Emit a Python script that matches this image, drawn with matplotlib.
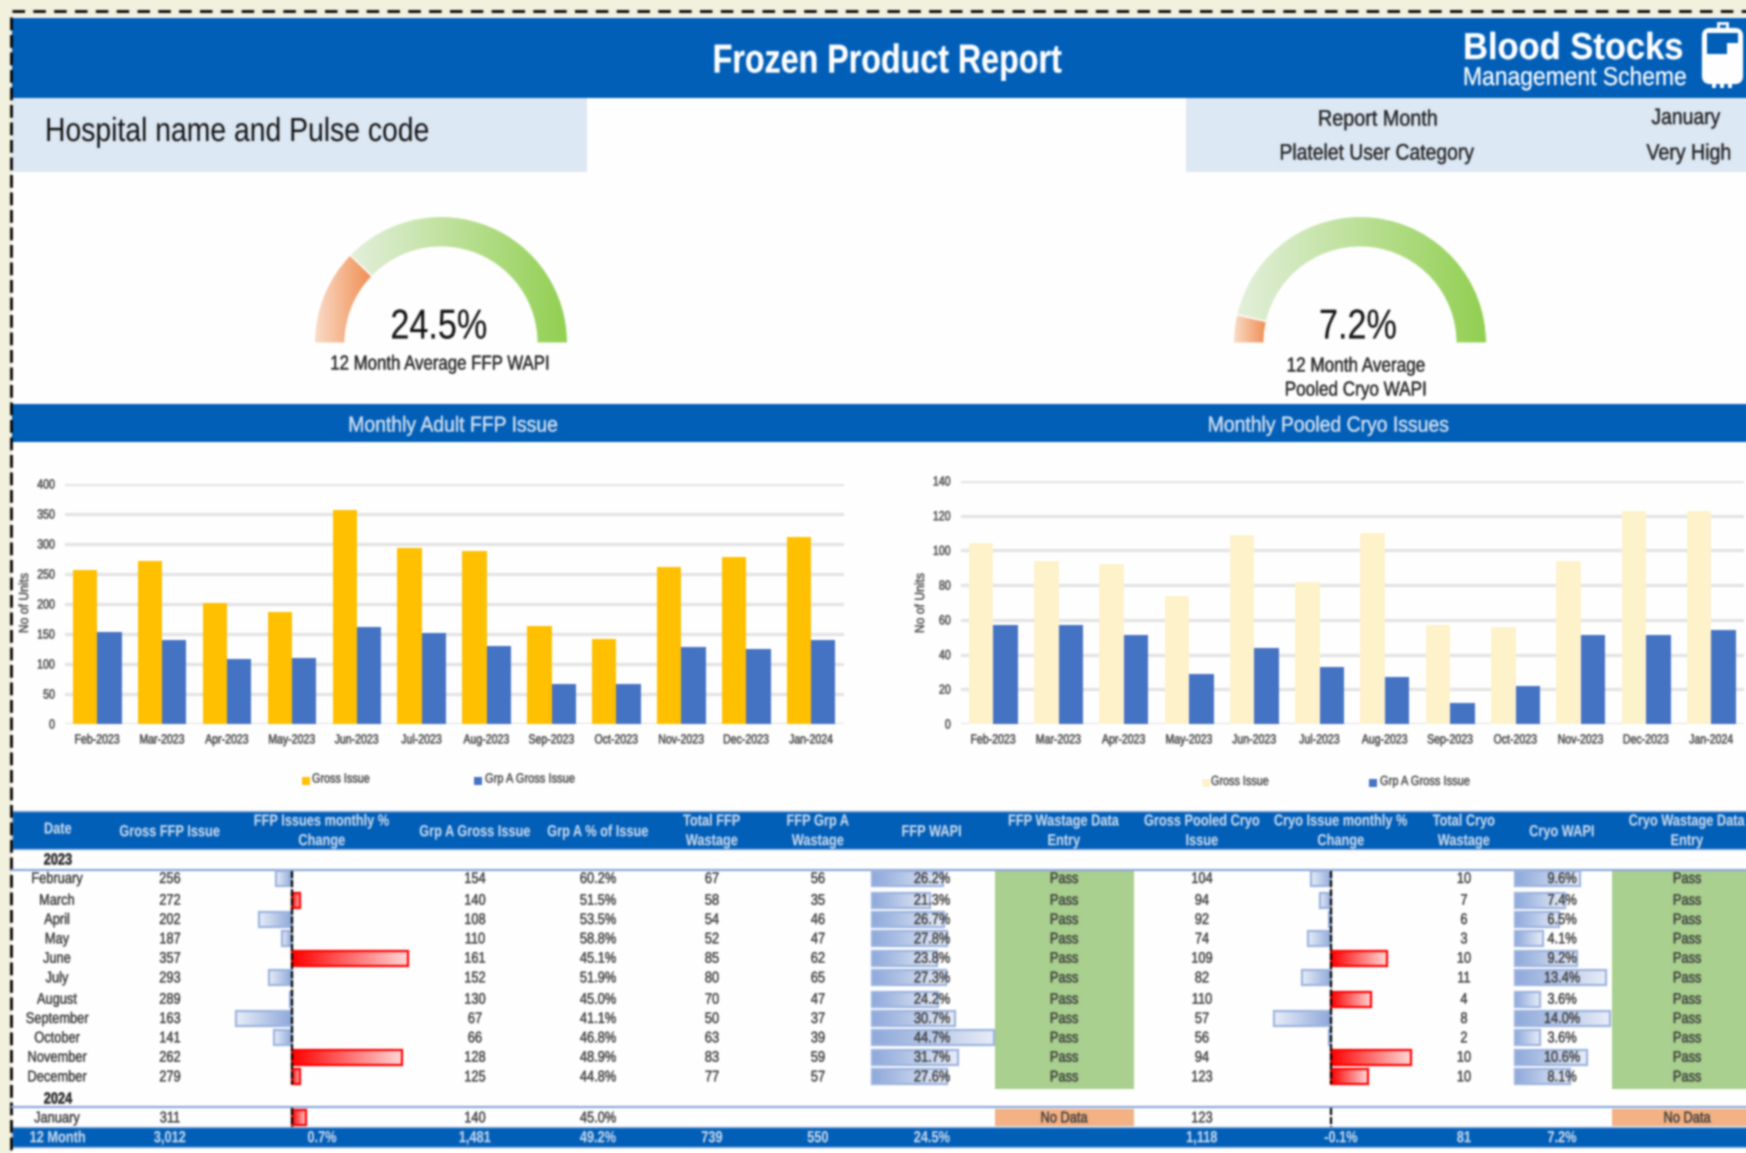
import numpy as np
import matplotlib
matplotlib.use("Agg")
import matplotlib.pyplot as plt
from matplotlib.colors import to_rgb
from matplotlib.patches import Rectangle, Wedge, FancyBboxPatch
from matplotlib.patheffects import AbstractPathEffect
from matplotlib.transforms import Affine2D

# ---------- data ----------
months_short = ["Feb-2023", "Mar-2023", "Apr-2023", "May-2023", "Jun-2023", "Jul-2023",
                "Aug-2023", "Sep-2023", "Oct-2023", "Nov-2023", "Dec-2023", "Jan-2024"]
months_long = ["February", "March", "April", "May", "June", "July", "August",
               "September", "October", "November", "December", "January"]
ffp_gross = [256, 272, 202, 187, 357, 293, 289, 163, 141, 262, 279, 311]
ffp_grp_a = [154, 140, 108, 110, 161, 152, 130, 67, 66, 128, 125, 140]
ffp_change = [-12, 6.3, -25.7, -7.4, 90.9, -17.9, -1.4, -43.6, -13.5, 85.8, 6.5, 11.5]
ffp_grp_pct = ["60.2%", "51.5%", "53.5%", "58.8%", "45.1%", "51.9%", "45.0%", "41.1%",
               "46.8%", "48.9%", "44.8%", "45.0%"]
ffp_total_waste = [67, 58, 54, 52, 85, 80, 70, 50, 63, 83, 77, None]
ffp_grp_waste = [56, 35, 46, 47, 62, 65, 47, 37, 39, 59, 57, None]
ffp_wapi = [26.2, 21.3, 26.7, 27.8, 23.8, 27.3, 24.2, 30.7, 44.7, 31.7, 27.6]
cryo_gross = [104, 94, 92, 74, 109, 82, 110, 57, 56, 94, 123, 123]
cryo_grp_a = [57, 57, 51, 29, 44, 33, 27, 12, 22, 51, 51, 54]
cryo_change = [-17, -9.6, -2.1, -19.6, 47.3, -24.8, 34.1, -48.2, -1.8, 67.9, 30.9, 0]
cryo_total_waste = [10, 7, 6, 3, 10, 11, 4, 8, 2, 10, 10, None]
cryo_wapi = [9.6, 7.4, 6.5, 4.1, 9.2, 13.4, 3.6, 14.0, 3.6, 10.6, 8.1]
entry_status = ["Pass"] * 11 + ["No Data"]
ffp_avg_wapi = 24.5
cryo_avg_wapi = 7.2
headers = ["Date", "Gross FFP Issue", "FFP Issues monthly %\nChange", "Grp A Gross Issue",
           "Grp A % of Issue", "Total FFP\nWastage", "FFP Grp A\nWastage", "FFP WAPI",
           "FFP Wastage Data\nEntry", "Gross Pooled Cryo\nIssue", "Cryo Issue monthly %\nChange",
           "Total Cryo\nWastage", "Cryo WAPI", "Cryo Wastage Data\nEntry"]
totals = ["12 Month", "3,012", "0.7%", "1,481", "49.2%", "739", "550", "24.5%", "",
          "1,118", "-0.1%", "81", "7.2%", ""]

# ---------- layout / style ----------
W, H = 1746, 1153
BLUE = "#005EB8"
PANEL = "#DDE8F5"
plt.rcParams["font.family"] = ["Liberation Sans", "DejaVu Sans"]
col_x = [58, 170, 322, 475, 598, 712, 818, 932, 1064, 1202, 1341, 1464, 1562, 1687]
row_y = [879, 900.7, 920, 939.3, 958.7, 978.3, 999.7, 1019, 1038.3, 1057.7, 1077.3, 1118.3]
TXT = "#3A3A3A"


class Squeeze(AbstractPathEffect):
    """Condense a text horizontally around its alignment point."""

    def __init__(self, sx=0.8, frac=0.5, grow=0.0):
        super().__init__()
        self.sx, self.frac, self.grow = sx, frac, grow

    def draw_path(self, renderer, gc, tpath, affine, rgbFace=None):
        w = tpath.get_extents().x1
        a = Affine2D().scale(self.sx, 1).translate((1 - self.sx) * w * self.frac, 0) + affine
        g = self._update_gc(renderer.new_gc(), {})
        g.copy_properties(gc)
        g.set_linewidth(self.grow)
        g.set_foreground(rgbFace)
        renderer.draw_path(g, tpath, a, rgbFace)
        g.restore()


def blur(img, dpi, sigma=1.0):
    r = 3
    k = np.exp(-0.5 * (np.arange(-r, r + 1) / sigma) ** 2)
    k /= k.sum()
    out = img.astype(float).copy()
    for axis in (0, 1):
        pad = [(0, 0)] * img.ndim
        pad[axis] = (r, r)
        p = np.pad(out, pad, mode="edge")
        s = np.zeros_like(out)
        for i, w in enumerate(k):
            sl = [slice(None)] * img.ndim
            sl[axis] = slice(i, i + out.shape[axis])
            s += w * p[tuple(sl)]
        out = s
    return out, 0, 0


fig = plt.figure(figsize=(W / 100, H / 100), dpi=100, facecolor="#F2F1DF")
fig.set_agg_filter(blur)


def px_axes(x0, y0, x1, y1, **kw):
    return fig.add_axes([x0 / W, 1 - y1 / H, (x1 - x0) / W, (y1 - y0) / H], **kw)


bg = px_axes(0, 0, W, H, zorder=0)
bg.set_axis_off()
fg = px_axes(0, 0, W, H, zorder=5)
fg.set_axis_off()
fg.patch.set_alpha(0)
fg.set_xlim(0, W)
fg.set_ylim(H, 0)


def T(x, y, s, size=11, color=TXT, ha="center", va="center", weight="normal", sx=0.84, grow=0.3, **kw):
    frac = {"center": 0.5, "left": 0.0, "right": 1.0}[ha]
    t = fg.text(x, y, s, fontsize=size, color=color, ha=ha, va=va, fontweight=weight, **kw)
    t.set_path_effects([Squeeze(sx, frac, grow)])
    return t


def grad(c0, c1, n=128):
    a, b = np.array(to_rgb(c0)), np.array(to_rgb(c1))
    t = np.linspace(0, 1, n)[None, :, None]
    return a[None, None, :] * (1 - t) + b[None, None, :] * t


# page panels
bg.add_patch(Rectangle((12, 17), W, H, fc="white", ec="none"))
bg.add_patch(Rectangle((12, 18), W, 80, fc=BLUE, ec="none"))
bg.add_patch(Rectangle((12, 98), 575, 74, fc=PANEL, ec="none"))
bg.add_patch(Rectangle((1186, 98), W, 74, fc=PANEL, ec="none"))
bg.add_patch(Rectangle((12, 404), W, 38, fc=BLUE, ec="none"))
bg.plot([12, W], [11, 11], color="black", lw=2, dashes=(4.5, 3.0))
bg.plot([11, 11], [17, H], color="black", lw=2, dashes=(4.6, 1.7))

# title strip
T(887, 61.5, "Frozen Product Report", size=29, color="white", weight="bold", sx=0.8, grow=0.2)
T(1463, 49, "Blood Stocks", size=27, color="white", ha="left", weight="bold", sx=0.92, grow=0.2)
T(1463, 78, "Management Scheme", size=18.5, color="white", ha="left", sx=0.89, grow=0.2)
bg.add_patch(FancyBboxPatch((1704, 30), 37, 52, boxstyle="round,pad=0,rounding_size=6", fc="white", ec="white", lw=3))
bg.add_patch(Rectangle((1707, 33), 31, 10, fc=BLUE, ec="none"))
bg.add_patch(Rectangle((1707, 43), 20, 11, fc=BLUE, ec="none"))
bg.add_patch(Rectangle((1718, 23), 9, 7, fc="none", ec="white", lw=2))
for bx in (1712, 1720, 1728):
    bg.add_patch(Rectangle((bx, 82), 4, 6, fc="white", ec="none"))

# info panels
T(45, 132.5, "Hospital name and Pulse code", size=24, color="#111111", ha="left", sx=0.85, grow=0)
T(1378, 120, "Report Month", size=16, color="#222222", sx=0.89)
T(1377, 154, "Platelet User Category", size=16, color="#222222", sx=0.87)
T(1686, 118.5, "January", size=16, color="#222222", sx=0.87)
T(1689, 154, "Very High", size=16, color="#222222", sx=0.88)


# gauges
def gauge(cx, value, cy=343, r=126.5, width=30.5):
    split = 180 + 180 * value / 100
    for th0, th1, c0, c1 in [(180, split, "#FADCC8", "#F08C4E"), (split, 360, "#E4F0DC", "#92D050")]:
        w = Wedge((cx, cy), r, th0, th1, width=width, fc="none", ec="white", lw=1)
        bg.add_patch(w)
        ang = np.radians(np.linspace(th0, th1, 200))
        xs = np.r_[cx + r * np.cos(ang), cx + (r - width) * np.cos(ang)]
        im = bg.imshow(grad(c0, c1), extent=(xs.min(), xs.max(), cy, cy - r),
                       aspect="auto", interpolation="bilinear", zorder=1)
        im.set_clip_path(w)
        edge = Wedge((cx, cy), r, th0, th1, width=width, fc="none", ec="white", lw=0.8, zorder=2)
        bg.add_patch(edge)


gauge(441, ffp_avg_wapi)
gauge(1360, cryo_avg_wapi)
bg.set_xlim(0, W)
bg.set_ylim(H, 0)
T(439, 327.5, f"{ffp_avg_wapi}%", size=30, color="#111111", sx=0.82, grow=0.1)
T(1358, 327.5, f"{cryo_avg_wapi}%", size=30, color="#111111", sx=0.82, grow=0.1)
T(440, 364, "12 Month Average FFP WAPI", size=14.5, color="#222222", sx=0.835)
T(1356, 366, "12 Month Average", size=14.5, color="#222222", sx=0.85)
T(1356, 390, "Pooled Cryo WAPI", size=14.5, color="#222222", sx=0.85)

# section bars
T(453, 426, "Monthly Adult FFP Issue", size=15.5, color="#D8E4F2", sx=0.9)
T(1328, 426, "Monthly Pooled Cryo Issues", size=15.5, color="#D8E4F2", sx=0.9)


# bar charts
def chart(x0, x1, ytop, ymax, step, gross, grp, gross_color, ylabel_x, leg):
    ax = px_axes(x0, ytop, x1, 724, zorder=2)
    ax.patch.set_alpha(0)
    x = np.arange(len(gross))
    bw = 0.375
    ax.bar(x - bw / 2, gross, bw, color=gross_color, zorder=3)
    ax.bar(x + bw / 2, grp, bw, color="#4472C4", zorder=3)
    ax.set_xlim(-0.5, len(gross) - 0.5)
    ax.set_ylim(0, ymax)
    ax.set_yticks(np.arange(0, ymax + 1, step))
    ax.set_xticks(x, months_short)
    ax.grid(axis="y", color="#E4E4E4", lw=2.4, zorder=0)
    ax.set_axisbelow(True)
    for s in ax.spines.values():
        s.set_visible(False)
    ax.tick_params(length=0, labelsize=9.5, labelcolor="#4A4A4A", pad=7.5)
    ax.tick_params(axis="y", pad=7)
    for lb in ax.get_xticklabels():
        lb.set_path_effects([Squeeze(0.8, 0.5, 0.35)])
    for lb in ax.get_yticklabels():
        lb.set_path_effects([Squeeze(0.8, 1.0, 0.35)])
    T(ylabel_x, 603, "No of Units", size=9.5, color="#4A4A4A", rotation=90, sx=0.92)
    (m1, t1, m2, t2, ly) = leg
    bg.add_patch(Rectangle((m1, ly - 4), 8, 8, fc=gross_color, ec="none"))
    T(t1, ly - 1, "Gross Issue", size=9.5, color="#4A4A4A", ha="left", sx=0.82)
    bg.add_patch(Rectangle((m2, ly - 4), 8, 8, fc="#4472C4", ec="none"))
    T(t2, ly - 1, "Grp A Gross Issue", size=9.5, color="#4A4A4A", ha="left", sx=0.84)


chart(64.8, 843.6, 484, 400, 50, ffp_gross, ffp_grp_a, "#FFC000", 25, (302, 312, 474, 485, 780.5))
chart(960.6, 1744, 481, 140, 20, cryo_gross, cryo_grp_a, "#FFF2CC", 921, (1202, 1211, 1369, 1380, 783))

# table frame
bg.add_patch(Rectangle((12, 811), W, 38, fc=BLUE, ec="#8FB0DC", lw=1))
bg.add_patch(Rectangle((12, 1127), W, 20, fc=BLUE, ec="#8FB0DC", lw=1))
bg.plot([12, W], [870.3, 870.3], color="#8EA9DB", lw=1.6)
bg.plot([12, W], [1107.3, 1107.3], color="#8EA9DB", lw=1.6)
for x0, x1 in [(994.5, 1134), (1612, W)]:
    bg.add_patch(Rectangle((x0, 871), x1 - x0, 217.7, fc="#A9D08E", ec="none"))
    bg.add_patch(Rectangle((x0, 1109), x1 - x0, 16.7, fc="#F4B183", ec="none"))
bg.set_xlim(0, W)
bg.set_ylim(H, 0)


# in-cell data bars
def data_bars(values, zero_px, px_per_unit, neg, pos, edge_neg, edge_pos):
    x0, x1 = 12, W
    ax = px_axes(x0, 868, x1, 1128, zorder=3)
    ax.set_axis_off()
    ax.patch.set_alpha(0)
    ys = row_y[: len(values)]
    for v, y in zip(values, ys):
        if v == 0:
            continue
        col, ec = (pos, edge_pos) if v > 0 else (neg, edge_neg)
        ax.barh(y - 0.5, v, 15, color="none", edgecolor=ec, lw=1.6, zorder=3)
        ax.imshow(grad(*col), extent=(0, v, y + 7, y - 8), aspect="auto",
                  interpolation="bilinear", zorder=2)
    ax.set_xlim((x0 - zero_px) / px_per_unit, (x1 - zero_px) / px_per_unit)
    ax.set_ylim(1128, 868)
    return ax


BLUEFADE = ("#8EA9DB", "#E9EEF8")
REDFADE = ("#FF0000", "#FFD9D9")
a1 = data_bars(ffp_change, 291.6, 1.284, BLUEFADE, REDFADE, "#9DB4E0", "#FF0000")
a2 = data_bars(cryo_change, 1331.2, 1.178, BLUEFADE, REDFADE, "#9DB4E0", "#FF0000")
data_bars(ffp_wapi, 871.6, 2.73, BLUEFADE, BLUEFADE, "#9DB4E0", "#9DB4E0")
data_bars(cryo_wapi, 1515.3, 6.75, BLUEFADE, BLUEFADE, "#9DB4E0", "#9DB4E0")
for ax in (a1, a2):
    for y0, y1 in [(871, 1084), (1108, 1127)]:
        ax.plot([0, 0], [y0, y1], color="black", lw=1.6, dashes=(3.2, 0.9), zorder=4)

# table text
for x, h in zip(col_x, headers):
    n = h.count("\n")
    ys = [821, 840.7] if n else [829 if h == "Date" else 831.7]
    for yy, line in zip(ys, h.split("\n")):
        T(x, yy, line, size=11.5, color="#C9DAEE", weight="bold", sx=0.8, grow=0.1)
T(58, 860, "2023", size=11.5, color="#222222", weight="bold", sx=0.8)
T(58, 1099, "2024", size=11.5, color="#222222", weight="bold", sx=0.8)
for i, y in enumerate(row_y):
    T(col_x[0] - 1, y, months_long[i])
    T(col_x[1], y, f"{ffp_gross[i]}")
    T(col_x[3], y, f"{ffp_grp_a[i]}")
    T(col_x[4], y, ffp_grp_pct[i])
    if ffp_total_waste[i] is not None:
        T(col_x[5], y, f"{ffp_total_waste[i]}")
        T(col_x[6], y, f"{ffp_grp_waste[i]}")
        T(col_x[7], y, f"{ffp_wapi[i]:.1f}%")
        T(col_x[11], y, f"{cryo_total_waste[i]}")
        T(col_x[12], y, f"{cryo_wapi[i]:.1f}%")
    T(col_x[8], y, entry_status[i])
    T(col_x[9], y, f"{cryo_gross[i]}")
    T(col_x[13], y, entry_status[i])
for x, s in zip(col_x, totals):
    if s:
        T(x, 1137.7, s, size=11.5, color="#C9DAEE", weight="bold", sx=0.8, grow=0.1)

fig.savefig("out.png", dpi=100, facecolor=fig.get_facecolor())
